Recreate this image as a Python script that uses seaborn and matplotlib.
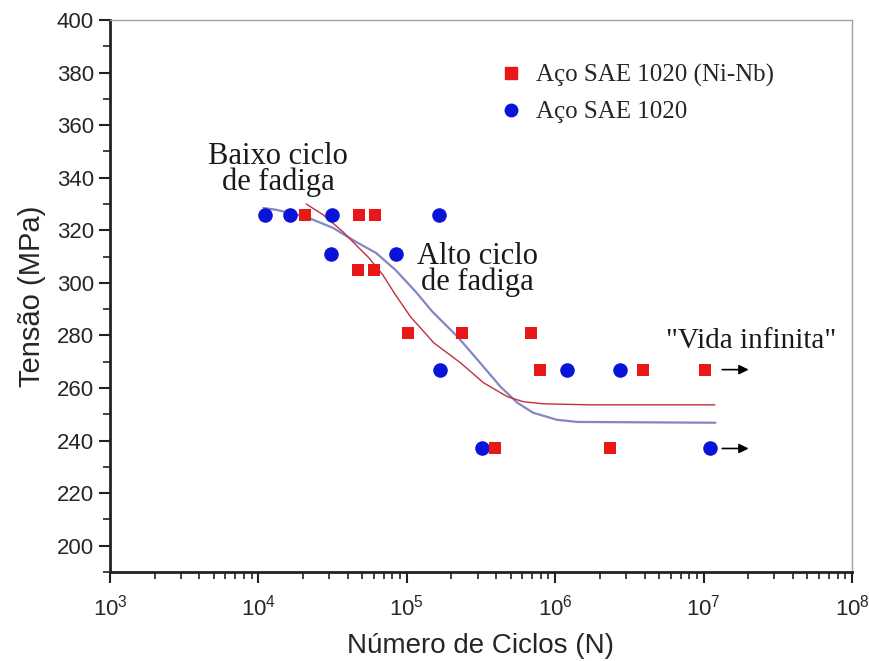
import matplotlib
matplotlib.use('Agg')
import matplotlib.pyplot as plt
import matplotlib.ticker as mticker
from matplotlib.lines import Line2D
import seaborn as sns
import pandas as pd

# dados
ciclos_sae = [1.1e4, 1.64e4, 3.14e4, 3.1e4, 8.4e4, 1.64e5, 1.67e5, 3.2e5, 1.2e6, 2.73e6, 1.11e7]
tensao_sae = [326, 326, 326, 311, 311, 326, 267, 237, 267, 267, 237]

ciclos_ninb = [2.07e4, 4.76e4, 6.1e4, 4.7e4, 6.0e4, 1.02e5, 2.34e5, 6.9e5, 7.9e5, 3.9e5, 2.34e6, 3.9e6, 1.02e7]
tensao_ninb = [326, 326, 326, 305, 305, 281, 281, 281, 267, 237, 237, 267, 267]

# curvas ajustadas
curva_sae_x = [1.08e4, 1.32e4, 2.1e4, 3.19e4, 4.55e4, 6.2e4, 8.4e4, 1.15e5, 1.49e5,
               2.2e5, 3.0e5, 4.28e5, 5.56e5, 7.1e5, 1.03e6, 1.41e6, 1.2e7]
curva_sae_y = [328.5, 327.8, 325.1, 320.9, 315.6, 311.4, 304.9, 296.6, 289.0,
               279.5, 270.7, 260.5, 254.4, 250.6, 247.9, 247.1, 246.8]

curva_ninb_x = [2.1e4, 2.73e4, 3.72e4, 4.55e4, 5.56e4, 6.9e4, 8.4e4, 1.06e5, 1.52e5,
                2.3e5, 3.29e5, 4.76e5, 6.1e5, 8.3e5, 1.72e6, 1.19e7]
curva_ninb_y = [330.0, 325.9, 319.4, 314.4, 309.5, 303.0, 295.4, 287.1, 277.2,
                269.6, 262.0, 256.7, 254.8, 254.0, 253.6, 253.6]

df_sae = pd.DataFrame({'N': ciclos_sae, 'S': tensao_sae})
df_ninb = pd.DataFrame({'N': ciclos_ninb, 'S': tensao_ninb})
df_c_sae = pd.DataFrame({'N': curva_sae_x, 'S': curva_sae_y})
df_c_ninb = pd.DataFrame({'N': curva_ninb_x, 'S': curva_ninb_y})

sns.set_style('white')
plt.rcParams['font.family'] = ['Liberation Sans', 'DejaVu Sans']
plt.rcParams['mathtext.fontset'] = 'custom'
plt.rcParams['mathtext.rm'] = 'Liberation Sans'

fig = plt.figure(figsize=(8.69, 6.61), dpi=100)
ax = fig.add_axes([0.1266, 0.1346, 0.8538, 0.8351])

sns.lineplot(data=df_c_sae, x='N', y='S', ax=ax, color='#8585c4', lw=1.6,
             sort=False, estimator=None)
sns.lineplot(data=df_c_ninb, x='N', y='S', ax=ax, color='#c0303c', lw=1.0,
             sort=False, estimator=None)

sns.scatterplot(data=df_sae, x='N', y='S', ax=ax, color='#0a14d8', marker='o',
                s=110, linewidth=0, zorder=3)
sns.scatterplot(data=df_ninb, x='N', y='S', ax=ax, color='#e81818', marker='s',
                s=80, linewidth=0, zorder=3)

ax.set_xscale('log')
ax.set_xlim(1e3, 1e8)
ax.set_ylim(190, 400)
ax.yaxis.set_major_locator(mticker.MultipleLocator(20))
ax.yaxis.set_minor_locator(mticker.MultipleLocator(10))
ax.xaxis.set_major_locator(mticker.LogLocator(base=10, numticks=10))
ax.xaxis.set_minor_locator(mticker.LogLocator(base=10, subs=range(2, 10), numticks=20))
ax.xaxis.set_minor_formatter(mticker.NullFormatter())

ax.tick_params(axis='both', which='major', direction='out', length=8, width=1.5,
               labelsize=16, color='#222222', bottom=True, left=True)
ax.tick_params(axis='x', which='major', pad=8)
ax.tick_params(axis='both', which='minor', direction='out', length=5, width=1.2,
               color='#222222', bottom=True, left=True)

for s in ['left', 'bottom']:
    ax.spines[s].set_color('#222222')
    ax.spines[s].set_linewidth(2)
for s in ['top', 'right']:
    ax.spines[s].set_color('#a0a0a0')
    ax.spines[s].set_linewidth(1)

ax.set_xlabel('Número de Ciclos (N)', fontsize=20, labelpad=9)
ax.set_ylabel('Tensão (MPa)', fontsize=21, labelpad=8)

serif = ['Liberation Serif', 'DejaVu Serif']
ax.text(1.36e4, 343, 'Baixo ciclo\nde fadiga', family=serif, fontsize=22,
        ha='center', va='center', linespacing=0.85, color='#1a1a1a')
ax.text(3.0e5, 305, 'Alto ciclo\nde fadiga', family=serif, fontsize=22,
        ha='center', va='center', linespacing=0.85, color='#1a1a1a')
ax.text(2.1e7, 278, '"Vida infinita"', family=serif, fontsize=21,
        ha='center', va='center', color='#1a1a1a')

for yv in [267, 237]:
    ax.annotate('', xy=(2.1e7, yv), xytext=(1.28e7, yv),
                arrowprops=dict(arrowstyle='-|>', color='black', lw=1.2,
                                mutation_scale=14))

handles = [Line2D([], [], marker='s', color='#e81818', ls='none', markersize=8),
           Line2D([], [], marker='o', color='#0a14d8', ls='none', markersize=9)]
ax.legend(handles, ['Aço SAE 1020 (Ni-Nb)', 'Aço SAE 1020'], loc='upper left',
          bbox_to_anchor=(0.493, 0.961), frameon=False, handlelength=1.0,
          handletextpad=0.5, prop={'family': serif, 'size': 18}, labelspacing=0.55)

fig.savefig('out.png', dpi=100)
